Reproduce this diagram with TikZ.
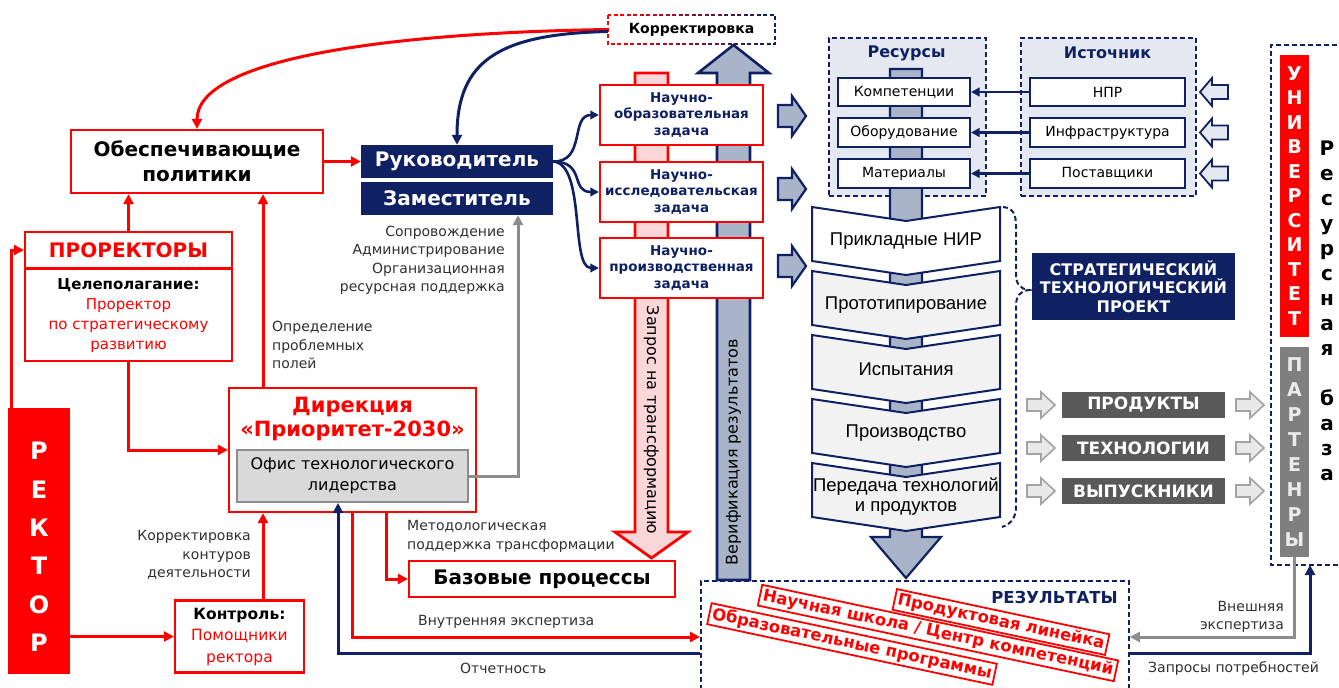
\documentclass[tikz,border=0pt]{standalone}
\usepackage{fontspec}
\setmainfont{DejaVu Sans}
\newfontfamily\narrowfont{Liberation Sans}
\usetikzlibrary{arrows.meta}
\newcommand\fsz[2]{\fontsize{#1}{#2}\selectfont}
\definecolor{navy}{HTML}{0F2163}
\definecolor{pred}{HTML}{FF0000}
\definecolor{steel}{HTML}{A9B4C9}
\definecolor{paleblue}{HTML}{E4E8F0}
\definecolor{pinkfill}{HTML}{F9D6D8}
\definecolor{dgray}{HTML}{595959}
\definecolor{mgray}{HTML}{7F7F7F}
\definecolor{lgray}{HTML}{D9D9D9}
\definecolor{chevgray}{HTML}{F2F2F2}
\definecolor{arrgray}{HTML}{8C8C8C}
\definecolor{txtgray}{HTML}{303030}
\tikzset{
  redbox/.style={draw=pred, line width=2.2pt, fill=white, inner sep=0pt},
  navybox/.style={fill=navy, text=white, inner sep=0pt},
  lbl/.style={text=txtgray, inner sep=0pt, font=\fsz{14}{18.5}},
  arrowhd/.style={-{Triangle[length=10pt,width=10pt]}},
  redarr/.style={draw=pred, line width=3pt, arrowhd},
  navarr/.style={draw=navy, line width=3pt, arrowhd},
  thinnav/.style={draw=navy, line width=2.6pt, -{Triangle[length=8.5pt,width=8.5pt]}},
  grayarr/.style={draw=arrgray, line width=3pt, arrowhd},
  grpbox/.style={draw=navy, dash pattern=on 5pt off 3pt, line width=1.8pt, fill=paleblue, inner sep=0pt},
  itembox/.style={draw=navy, line width=2pt, fill=white, inner sep=0pt, font=\fsz{14}{16}},
  chev/.style={draw=navy, line width=2pt},
  outbox/.style={fill=dgray, text=white, inner sep=0pt, font=\fsz{17}{20}\bfseries, minimum width=163pt, minimum height=26pt},
  stamp/.style={draw=pred, line width=1.8pt, fill=white, text=pred, font=\fsz{16.5}{18}\bfseries, rotate=-12, inner xsep=3pt, inner ysep=2.5pt},
  taskbox/.style={redbox, minimum width=163pt, minimum height=60pt, text=navy, font=\fsz{13.5}{16.5}\bfseries, align=center},
  pics/rblock/.style={code={\path[pic actions] (0,-11) -- (14,-11) -- (14,-20) -- (28,0) -- (14,20) -- (14,11) -- (0,11) -- cycle;}},
  pics/lblock/.style={code={\path[pic actions] (0,0) -- (12,-14) -- (12,-7) -- (28,-7) -- (28,7) -- (12,7) -- (12,14) -- cycle;}},
  pics/gblock/.style={code={\path[pic actions] (0,-6) -- (14,-6) -- (14,-13) -- (28,0) -- (14,13) -- (14,6) -- (0,6) -- cycle;}},
}
\begin{document}
\begin{tikzpicture}[x=1pt,y=-1pt]
\path[use as bounding box, fill=white] (0,0) rectangle (1339,688);

% ---------- wide background arrows ----------
% verification of results (upwards)
\draw[fill=steel, draw=navy, line width=2.6pt, line join=miter]
  (717,580) -- (717,73) -- (698,73) -- (733.5,45) -- (769,73) -- (750,73) -- (750,580) -- cycle;
\node[rotate=90, font=\fsz{16}{18}, inner sep=0pt] (verif) at (733.5,452) {Верификация результатов};
% request for transformation (downwards)
\draw[fill=pinkfill, draw=pred, line width=2.8pt, line join=miter]
  (635,73) -- (668,73) -- (668,532) -- (688,532) -- (651.5,558) -- (615,532) -- (635,532) -- cycle;
\node[rotate=-90, font=\fsz{16}{18}, inner sep=0pt] (transf) at (651.5,420) {Запрос на трансформацию};

% ---------- correction box with colour-graded dashed border ----------
\node[minimum width=167pt, minimum height=29pt, inner sep=0pt, font=\fsz{14}{16}\bfseries] (korr) at (691.5,29.5) {Корректировка};
\foreach \i in {0,...,9}{
  \pgfmathtruncatemacro\pc{100-\i*100/9}
  \begin{scope}
    \clip ({606+\i*17},8) rectangle ({623+\i*17},52);
    \draw[draw=pred!\pc!navy, line width=1.8pt, dash pattern=on 4pt off 2.5pt] (korr.north west) rectangle (korr.south east);
  \end{scope}
}

% ---------- left part ----------
\node[redbox, minimum width=252pt, minimum height=63pt, font=\fsz{20}{25}\bfseries, align=center] (obesp) at (197,161.5) {Обеспечивающие\\политики};
\node[navybox, minimum width=192pt, minimum height=33pt, font=\fsz{20}{22}\bfseries] (ruk) at (457,161.5) {Руководитель};
\node[navybox, minimum width=192pt, minimum height=33pt, font=\fsz{20}{22}\bfseries] (zam) at (457,198.5) {Заместитель};

\node[redbox, minimum width=207pt, minimum height=36pt, text=pred, font=\fsz{20}{24}\bfseries] (prohead) at (128.5,250) {ПРОРЕКТОРЫ};
\node[redbox, minimum width=207pt, minimum height=92pt, anchor=north, text=pred, align=center, font=\fsz{15}{20}] (probody) at (128.5,268)
  {{\bfseries\color{black}Целеполагание:}\\Проректор\\по стратегическому\\развитию};

\node[fill=pred, minimum width=62pt, minimum height=266pt, inner sep=0pt] (rektor) at (39,541) {};
\node[text=white, font=\fsz{24}{38.4}\bfseries, align=center, inner sep=0pt] (rektortxt) at (39,547) {Р\\Е\\К\\Т\\О\\Р};

\node[redbox, minimum width=129pt, minimum height=72pt, text=pred, align=center, font=\fsz{15.5}{21.5}] (kontrol) at (239.5,636.5)
  {{\bfseries\color{black}Контроль:}\\Помощники\\ректора};

\node[redbox, minimum width=247pt, minimum height=124pt] (direk) at (352.5,450) {};
\node[text=pred, font=\fsz{21}{24}\bfseries, align=center, inner sep=0pt] (direktxt) at (352.5,419) {Дирекция\\«Приоритет-2030»};
\node[draw=arrgray, line width=2pt, fill=lgray, minimum width=231pt, minimum height=52pt, inner sep=0pt, align=center, font=\fsz{16}{21}] (ofis) at (352.5,476) {Офис технологического\\лидерства};

\node[redbox, minimum width=266pt, minimum height=36pt, font=\fsz{20}{22}\bfseries] (baz) at (542,579) {Базовые процессы};

% labels of the left part
\node[lbl, align=right, anchor=east] (lsopr) at (505,260.5) {Сопровождение\\Администрирование\\Организационная\\ресурсная поддержка};
\node[lbl, align=left, anchor=west] (lopr) at (272,345) {Определение\\проблемных\\полей};
\node[lbl, align=right, anchor=east] (lkorr) at (251,555) {Корректировка\\контуров\\деятельности};
\node[lbl, align=left, anchor=west] (lmet) at (407,536.5) {Методологическая\\поддержка трансформации};
\node[lbl, anchor=west] (lvnutr) at (418,622) {Внутренняя экспертиза};
\node[lbl, anchor=west] (lotch) at (460,668) {Отчетность};

% ---------- tasks ----------
\node[taskbox] (t1) at (681.5,115) {Научно-\\образовательная\\задача};
\node[taskbox] (t2) at (681.5,192) {Научно-\\исследовательская\\задача};
\node[taskbox] (t3) at (681.5,268) {Научно-\\производственная\\задача};
\foreach \yy in {116,189,266}{
  \pic[fill=steel, draw=navy, line width=2.2pt, line join=miter] at (778,\yy) {rblock};
}

% ---------- resources and sources ----------
\node[grpbox, minimum width=157pt, minimum height=158pt, anchor=north west] (resgrp) at (828,37) {};
\node[text=navy, font=\fsz{16}{18}\bfseries, inner sep=0pt] (restitle) at (906.5,53) {Ресурсы};
\node[grpbox, minimum width=175pt, minimum height=158pt, anchor=north west] (srcgrp) at (1020,37) {};
\node[text=navy, font=\fsz{16}{18}\bfseries, inner sep=0pt] (srctitle) at (1107.5,53) {Источник};

% shaft of the process column
\draw[fill=steel, draw=navy, line width=2.2pt, line join=miter]
  (890,69) -- (922,69) -- (922,537) -- (941,537) -- (906,578) -- (871,537) -- (890,537) -- cycle;

\node[itembox, minimum width=132pt, minimum height=28pt] (r1) at (904,92) {Компетенции};
\node[itembox, minimum width=132pt, minimum height=29pt] (r2) at (904,132.5) {Оборудование};
\node[itembox, minimum width=132pt, minimum height=29pt] (r3) at (904,173.5) {Материалы};
\node[itembox, minimum width=155pt, minimum height=28pt] (s1) at (1107.5,92) {НПР};
\node[itembox, minimum width=155pt, minimum height=29pt] (s2) at (1107.5,132.5) {Инфраструктура};
\node[itembox, minimum width=155pt, minimum height=29pt] (s3) at (1107.5,173.5) {Поставщики};
\draw[thinnav] (s1.west) -- (r1.east);
\draw[thinnav] (s2.west) -- (r2.east);
\draw[thinnav] (s3.west) -- (r3.east);
\foreach \yy in {92,132.5,173.5}{
  \pic[fill=paleblue, draw=navy, line width=1.8pt, line join=miter] at (1200,\yy) {lblock};
}

% ---------- process chevrons ----------
\foreach \k/\txt/\fl in {0/{Прикладные НИР}/white,1/{Прототипирование}/chevgray,2/{Испытания}/chevgray,3/{Производство}/chevgray,4/{Передача технологий\\и продуктов}/chevgray}{
  \pgfmathsetmacro\yt{207+64*\k}
  \draw[chev, fill=\fl] (812,\yt) -- (906,\yt+14) -- (1000,\yt) -- (1000,\yt+54) -- (906,\yt+68) -- (812,\yt+54) -- cycle;
  \node[font=\narrowfont\fsz{18.5}{20}, align=center, inner sep=0pt] (chev\k) at (906,\yt+34) {\txt};
}
% brace of the strategic project
\draw[navy, line width=2pt, dash pattern=on 5pt off 3pt]
  (1003,207) .. controls (1013,208) and (1016,214) .. (1016,226) -- (1016,274)
  .. controls (1016,284) and (1020,289) .. (1029,290)
  .. controls (1020,291) and (1016,296) .. (1016,306) -- (1016,506)
  .. controls (1016,518) and (1011,524) .. (1002,527);
\node[navybox, minimum width=203pt, minimum height=67pt, align=center, font=\fsz{16}{18.5}\bfseries] (strat) at (1133.5,286.5) {СТРАТЕГИЧЕСКИЙ\\ТЕХНОЛОГИЧЕСКИЙ\\ПРОЕКТ};

% ---------- outputs ----------
\node[outbox] (prod) at (1143.5,405) {ПРОДУКТЫ};
\node[outbox] (tech) at (1143.5,448) {ТЕХНОЛОГИИ};
\node[outbox] (vyp) at (1143.5,491) {ВЫПУСКНИКИ};
\foreach \yy in {405,448,491}{
  \pic[fill=lgray!60, draw=arrgray!80, line width=1.6pt, line join=miter] at (1027,\yy) {gblock};
  \pic[fill=lgray!60, draw=arrgray!80, line width=1.6pt, line join=miter] at (1236,\yy) {gblock};
}

% ---------- university and partners ----------
\draw[navy, line width=1.8pt, dash pattern=on 5pt off 3pt] (1345,45) -- (1271,45) -- (1271,565) -- (1345,565);
\coordinate (frameB) at (1310,565);
\node[fill=pred, text=white, minimum width=29pt, minimum height=282pt, inner sep=0pt, align=center, font=\fsz{19}{24.5}\bfseries] (univ) at (1294.5,196)
  {У\\Н\\И\\В\\Е\\Р\\С\\И\\Т\\Е\\Т};
\node[fill=mgray, text=white!92!black, minimum width=29pt, minimum height=210pt, inner sep=0pt, align=center, font=\fsz{19}{24.9}\bfseries] (partn) at (1294.5,452)
  {П\\А\\Р\\Т\\Е\\Н\\Р\\Ы};
\node[font=\fsz{20}{25}\bfseries, align=center, inner sep=0pt] (resbase) at (1327,311)
  {Р\\е\\с\\у\\р\\с\\н\\а\\я\\[25pt]б\\а\\з\\а};

% ---------- results ----------
\node[draw=navy, line width=1.8pt, dash pattern=on 5pt off 3pt, minimum width=428pt, minimum height=120pt, inner sep=0pt, anchor=north west] (resbox) at (700,580) {};
\node[text=navy, font=\fsz{16.5}{18}\bfseries, inner sep=0pt, anchor=east] (restxt) at (1118,597) {РЕЗУЛЬТАТЫ};
\node[stamp] (st2) at (938,633) {Научная школа / Центр компетенций};
\node[stamp] (st1) at (1001,622) {Продуктовая линейка};
\node[stamp] (st3) at (852,644) {Образовательные программы};
\node[lbl, align=right, anchor=east] (lvnesh) at (1284,617) {Внешняя\\экспертиза};
\node[lbl, anchor=west] (lzapr) at (1148,669) {Запросы потребностей};

% ---------- connectors ----------
\draw[redarr] (korr.west) .. controls (380,33) and (197,60) .. (obesp.north);
\draw[navarr] ([yshift=-2pt]korr.west) .. controls (500,34) and (457,60) .. (ruk.north);
\draw[redarr] (obesp.east) -- (ruk.west);
\draw[thinnav] (ruk.east) .. controls (586,162) and (570,115) .. (t1.west);
\draw[thinnav] (ruk.east) .. controls (586,162) and (570,192) .. (t2.west);
\draw[thinnav] (ruk.east) .. controls (586,164) and (570,268) .. (t3.west);
\draw[redarr] (prohead.north) -- (prohead.north |- obesp.south);
\draw[redarr] ([xshift=-89.5pt]direk.north) -- ([xshift=66pt]obesp.south);
\draw[redarr] (probody.south) |- (direk.west);
\draw[redarr] ([xshift=4pt]rektor.north west) |- (prohead.west);
\draw[redarr] (rektor.east |- kontrol.west) -- (kontrol.west);
\draw[redarr] ([xshift=23.5pt]kontrol.north) -- ([xshift=-89.5pt]direk.south);
\draw[redarr] ([xshift=33.5pt]direk.south) |- (baz.west);
\draw[redarr] ([xshift=-0.5pt]direk.south) |- ([yshift=-57pt]resbox.north west);
\draw[navarr] ([yshift=-73pt]resbox.north west) -| ([xshift=-14.5pt]ofis.south);
\draw[grayarr] (ofis.east) -| ([xshift=61pt]zam.south);
\draw[grayarr] (partn.south) |- ([yshift=-57pt]resbox.north east);
\draw[navarr] ([yshift=-73pt]resbox.north east) -| (frameB);
\end{tikzpicture}
\end{document}
